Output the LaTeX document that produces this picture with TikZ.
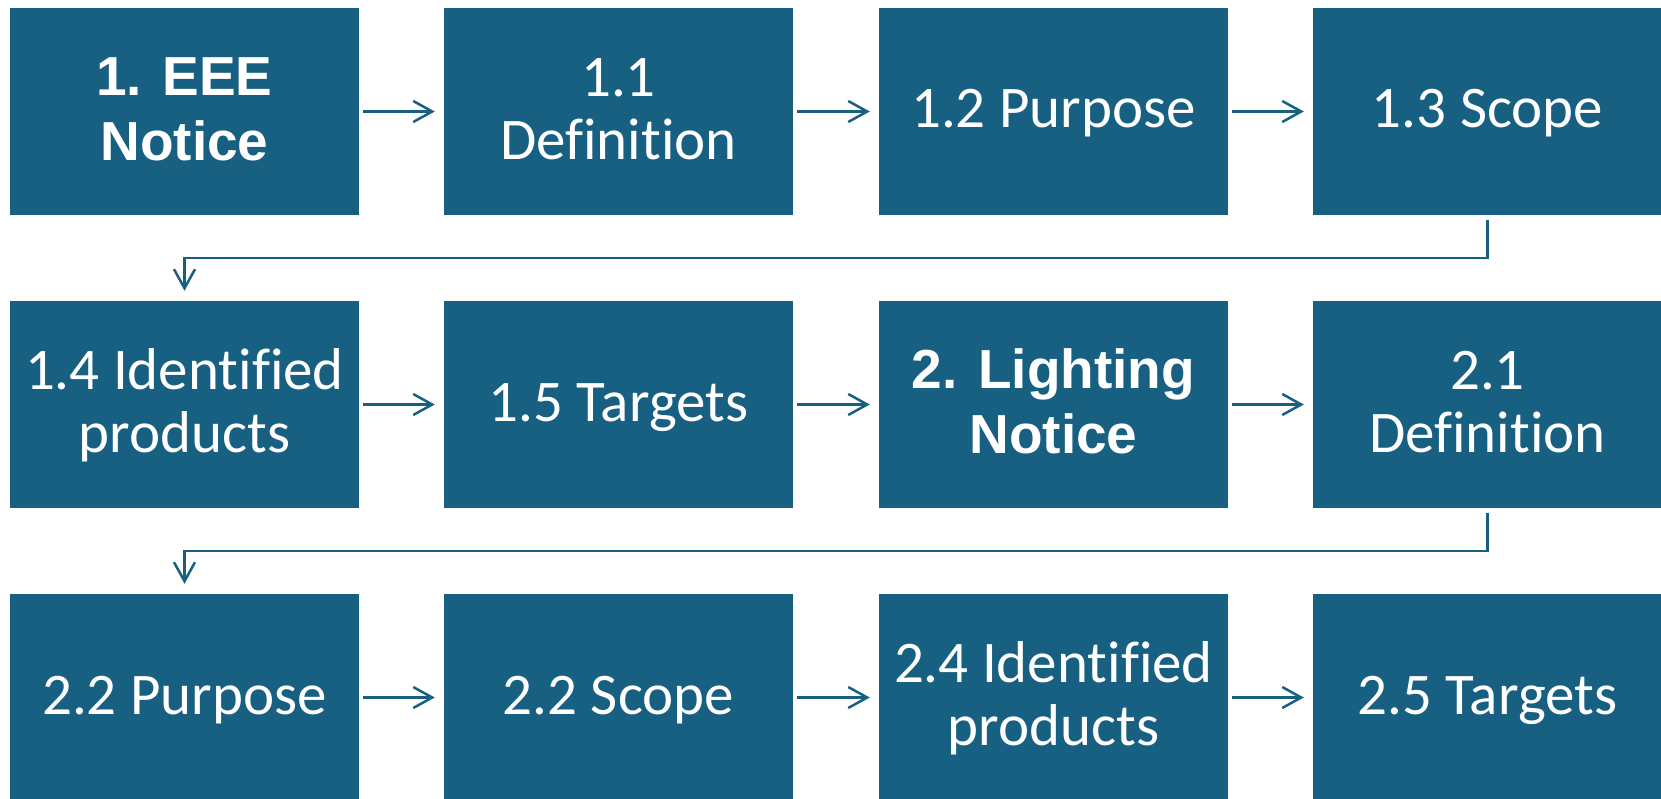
\documentclass[tikz,border=0pt]{standalone}
\usepackage{fontspec}
\setmainfont{Carlito}[Ligatures={NoCommon,NoContextual,NoRequired}]
\newfontfamily\boldfont{Liberation Sans Bold}
\usetikzlibrary{arrows.meta}
\definecolor{boxblue}{HTML}{186082}
\newcommand\tstrut{\rule{0pt}{48pt}}
\newcommand\bstrut{\rule[-15pt]{0pt}{0pt}}
\newcommand\nl{\kern0pt }
\tikzset{
  stepbox/.style={rectangle, fill=boxblue, draw=none, minimum width=349pt, minimum height=207pt,
    inner sep=0pt, text=white, align=center, font=\fontsize{59}{63}\selectfont},
  boldbox/.style={stepbox, font=\boldfont\fontsize{55}{65}\selectfont},
  conn/.style={draw=boxblue, line width=2.5pt, -{Straight Barb[length=19pt,width=21pt,line width=2.5pt]}},
  hconn/.style={conn, shorten <=4pt, shorten >=9pt},
  vconn/.style={conn, shorten <=5pt, shorten >=10pt}
}
\begin{document}
\begin{tikzpicture}[x=1pt,y=1pt]
\useasboundingbox (0,0) rectangle (1661,-799);
\clip (0,0) rectangle (1661,-799);
% row 1
\node[boldbox] (n1) at (184.5,-111.5) {\tstrut 1. EEE\\Notice\bstrut};
\node[stepbox] (n2) at (618.5,-111.5) {\tstrut 1.1\\Def\nl init\nl ion\bstrut};
\node[stepbox] (n3) at (1053.5,-111.5) {\tstrut 1.2 Purpose\bstrut};
\node[stepbox] (n4) at (1487.5,-111.5) {\tstrut 1.3 Scope\bstrut};
% row 2
\node[stepbox] (n5) at (184.5,-404.5) {\tstrut 1.4 Ident\nl if\nl ied\\products\bstrut};
\node[stepbox] (n6) at (618.5,-404.5) {\tstrut 1.5 Targets\bstrut};
\node[boldbox] (n7) at (1053.5,-404.5) {\tstrut 2. Lighting\\Notice\bstrut};
\node[stepbox] (n8) at (1487.5,-404.5) {\tstrut 2.1\\Def\nl init\nl ion\bstrut};
% row 3
\node[stepbox] (n9) at (184.5,-697.5) {\tstrut 2.2 Purpose\bstrut};
\node[stepbox] (n10) at (618.5,-697.5) {\tstrut 2.2 Scope\bstrut};
\node[stepbox] (n11) at (1053.5,-697.5) {\tstrut 2.4 Ident\nl if\nl ied\\products\bstrut};
\node[stepbox] (n12) at (1487.5,-697.5) {\tstrut 2.5 Targets\bstrut};
% connectors
\draw[hconn] (n1.east) -- (n2.west);
\draw[hconn] (n2.east) -- (n3.west);
\draw[hconn] (n3.east) -- (n4.west);
\draw[vconn] (n4.south) -- ++(0,-43) -| (n5.north);
\draw[hconn] (n5.east) -- (n6.west);
\draw[hconn] (n6.east) -- (n7.west);
\draw[hconn] (n7.east) -- (n8.west);
\draw[vconn] (n8.south) -- ++(0,-43) -| (n9.north);
\draw[hconn] (n9.east) -- (n10.west);
\draw[hconn] (n10.east) -- (n11.west);
\draw[hconn] (n11.east) -- (n12.west);
\end{tikzpicture}
\end{document}
